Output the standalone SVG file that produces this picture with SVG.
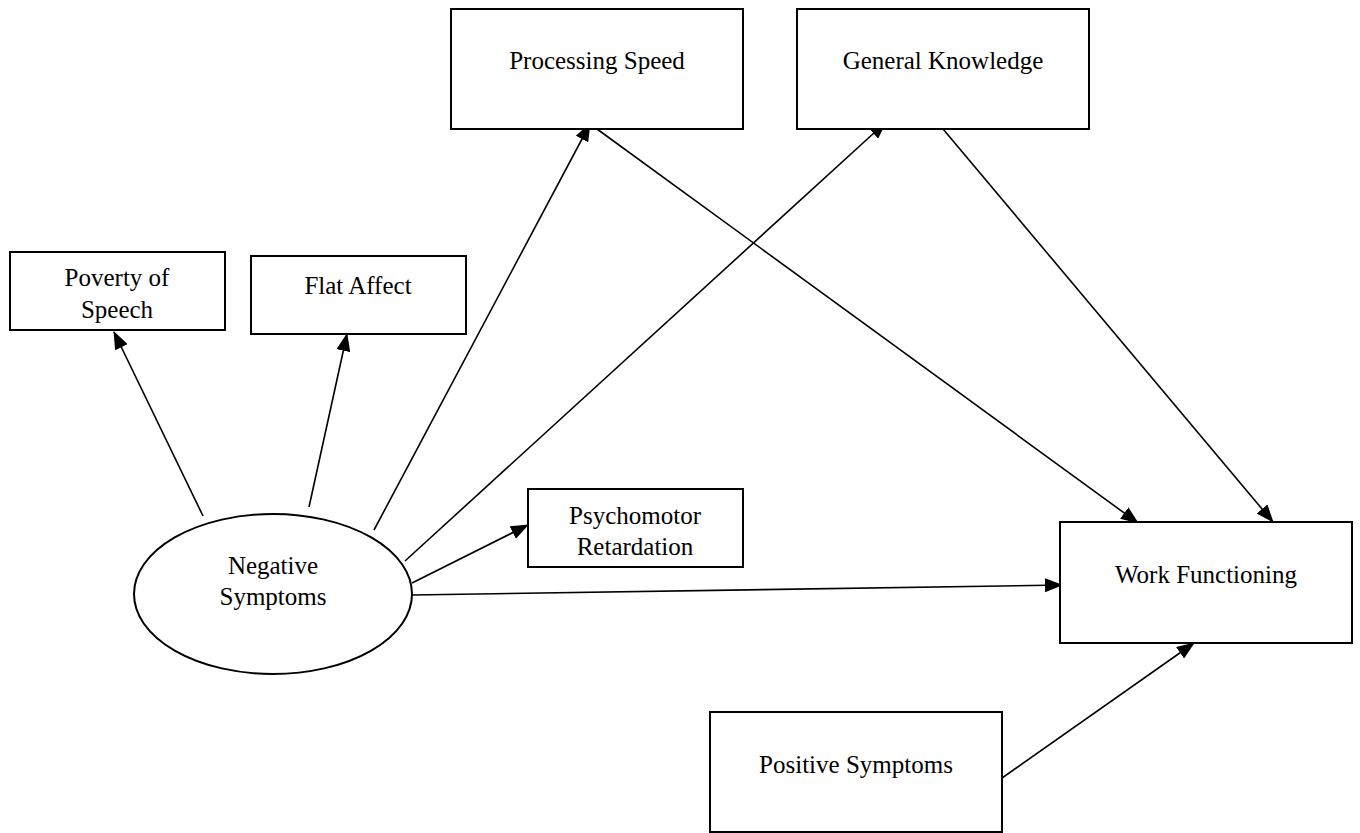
<svg xmlns="http://www.w3.org/2000/svg" width="1360" height="833" viewBox="0 0 1360 833">
<style>
.box{fill:#fff;stroke:#000;stroke-width:2}
.lbl{font-family:"Liberation Serif","Times New Roman",serif;font-size:25px;fill:#000;text-anchor:middle}
.con line{stroke:#000;stroke-width:1.6;marker-end:url(#ah)}
</style>
<defs>
<marker id="ah" markerUnits="userSpaceOnUse" markerWidth="18" markerHeight="14" refX="17" refY="7" orient="auto">
<path d="M0,0 L18,7 L0,14 Z" fill="#000"/>
</marker>
</defs>
<rect width="1360" height="833" fill="#fff"/>
<g class="con">
<line x1="203" y1="516" x2="114" y2="332"/>
<line x1="309" y1="507" x2="347" y2="334"/>
<line x1="374" y1="530" x2="590" y2="124"/>
<line x1="405" y1="561" x2="886" y2="122"/>
<line x1="412" y1="583" x2="528" y2="525"/>
<line x1="412" y1="595" x2="1062" y2="585"/>
<line x1="597" y1="129" x2="1138" y2="523"/>
<line x1="943" y1="129" x2="1273" y2="522"/>
<line x1="1002" y1="778" x2="1194" y2="643"/>
</g>
<g id="poverty"><rect class="box" x="10" y="252" width="215" height="78"/><text class="lbl" x="117" y="286">Poverty of</text><text class="lbl" x="117" y="318">Speech</text></g>
<g id="flat"><rect class="box" x="251" y="256" width="215" height="78"/><text class="lbl" x="358" y="294">Flat Affect</text></g>
<g id="processing"><rect class="box" x="451" y="9" width="292" height="120"/><text class="lbl" x="597" y="69">Processing Speed</text></g>
<g id="general"><rect class="box" x="797" y="9" width="292" height="120"/><text class="lbl" x="943" y="69">General Knowledge</text></g>
<g id="psychomotor"><rect class="box" x="528" y="489" width="215" height="78"/><text class="lbl" x="635" y="524">Psychomotor</text><text class="lbl" x="635" y="555">Retardation</text></g>
<g id="negative"><ellipse class="box" cx="273" cy="594" rx="139" ry="80"/><text class="lbl" x="273" y="574">Negative</text><text class="lbl" x="273" y="605">Symptoms</text></g>
<g id="work"><rect class="box" x="1060" y="522" width="292" height="121"/><text class="lbl" x="1206" y="583">Work Functioning</text></g>
<g id="positive"><rect class="box" x="710" y="712" width="292" height="120"/><text class="lbl" x="856" y="773">Positive Symptoms</text></g>
</svg>
